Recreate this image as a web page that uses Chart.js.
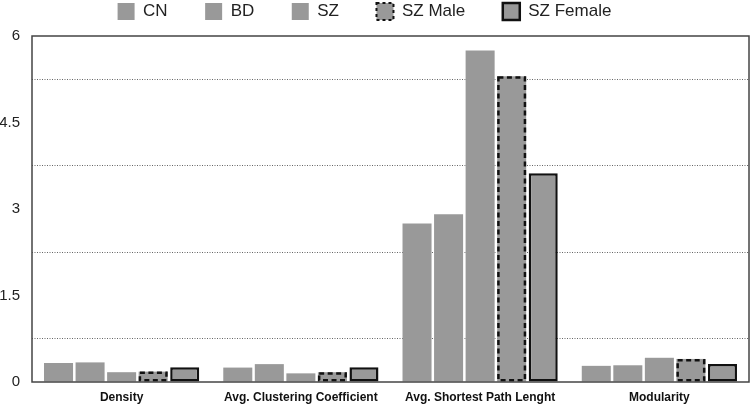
<!DOCTYPE html>
<html>
<head>
<meta charset="utf-8">
<script src="https://cdn.jsdelivr.net/npm/chart.js@4/dist/chart.umd.min.js"></script>
<style>
  html, body { margin: 0; padding: 0; background: #fff; }
  #wrap { width: 752px; height: 404px; }
</style>
</head>
<body>
<div id="wrap"><canvas id="chart" width="752" height="404"></canvas></div>
<script>
const categories = [
  'Density',
  'Avg. Clustering Coefficient',
  'Avg. Shortest Path Lenght',
  'Modularity',
]
const groupNames = ['CN', 'BD', 'SZ', 'SZ Male', 'SZ Female']
const cnValues = [0.33, 0.25, 2.75, 0.28]
const bdValues = [0.34, 0.31, 2.91, 0.29]
const szValues = [0.17, 0.15, 5.75, 0.42]
const szMaleValues = [0.18, 0.17, 5.30, 0.40]
const szFemaleValues = [0.255, 0.255, 3.62, 0.31]
const yTicks = [0, 1.5, 3, 4.5, 6]

const barGray = '#999999'
const allValues = [cnValues, bdValues, szValues, szMaleValues, szFemaleValues]

const datasets = []
for (let i = 0; i < groupNames.length; i++) {
  datasets.push({
    label: groupNames[i],
    data: allValues[i],
    backgroundColor: barGray,
    borderWidth: 0,
  })
}
// SZ Female: solid black outline on all sides
datasets[4].borderWidth = 2.5
datasets[4].borderColor = '#111'
datasets[4].borderSkipped = false

function isMainTick (v) {
  return yTicks.some(t => Math.abs(t - v) < 1e-6)
}

// dashed outline for SZ Male bars (bar elements can't dash their border)
const dashedBars = {
  id: 'dashedBars',
  afterDatasetsDraw (chart) {
    const ctx = chart.ctx
    const meta = chart.getDatasetMeta(3)
    ctx.save()
    ctx.strokeStyle = '#111'
    ctx.lineWidth = 2.5
    ctx.setLineDash([5, 3.5])
    meta.data.forEach(el => {
      const p = el.getProps(['x', 'y', 'base', 'width'], true)
      ctx.strokeRect(p.x - p.width / 2 + 1.25, p.y + 1.25, p.width - 2.5, p.base - p.y - 2.5)
    })
    ctx.restore()
  },
}

// box around the plot area
const frame = {
  id: 'frame',
  afterDatasetsDraw (chart) {
    const a = chart.chartArea
    const ctx = chart.ctx
    ctx.save()
    ctx.strokeStyle = '#444'
    ctx.lineWidth = 1.5
    ctx.strokeRect(a.left, a.top, a.right - a.left, a.bottom - a.top)
    ctx.restore()
  },
}

const config = {
  type: 'bar',
  data: {
    labels: categories,
    datasets: datasets,
  },
  options: {
    responsive: false,
    animation: false,
    layout: {
      padding: { top: -34.5, left: -20, right: 3, bottom: 0 },
    },
    datasets: {
      bar: {
        categoryPercentage: 0.88,
        barPercentage: 0.92,
      },
    },
    plugins: {
      tooltip: { enabled: false },
      // empty title used only as a spacer between legend and plot
      title: {
        display: true,
        text: '',
        weight: 500,
        padding: 0,
        font: { size: 6, lineHeight: 1 },
      },
      legend: {
        position: 'top',
        labels: {
          boxWidth: 17,
          boxHeight: 17,
          padding: 37.5,
          color: '#222',
          font: { family: 'Liberation Sans, Arial, sans-serif', size: 17 },
          generateLabels (chart) {
            const items = Chart.defaults.plugins.legend.labels.generateLabels(chart)
            items[3].lineWidth = 2
            items[3].strokeStyle = '#111'
            items[3].lineDash = [3, 3]
            items[4].lineWidth = 2.5
            return items
          },
        },
      },
    },
    scales: {
      x: {
        grid: { display: false, drawTicks: false },
        border: { display: false },
        ticks: {
          padding: 8,
          color: '#111',
          font: { family: 'Liberation Sans, Arial, sans-serif', size: 12, weight: 'bold' },
          maxRotation: 0,
        },
        afterFit (scale) {
          scale.height = 22
        },
      },
      y: {
        min: 0,
        max: 6,
        grid: {
          drawTicks: false,
          lineWidth: 1,
          color: (c) => (c.tick && !isMainTick(c.tick.value) ? '#666' : 'rgba(0,0,0,0)'),
        },
        border: { display: false, dash: [1, 1.5] },
        ticks: {
          stepSize: 0.75,
          autoSkip: false,
          padding: 12,
          color: '#222',
          font: { family: 'Liberation Sans, Arial, sans-serif', size: 15 },
          callback: (v) => (isMainTick(v) ? String(v) : ''),
        },
        afterFit (scale) {
          scale.width = 52
        },
      },
    },
  },
  plugins: [dashedBars, frame],
}

const ctx = document.getElementById('chart').getContext('2d')
const myChart = new Chart(ctx, config)
</script>
</body>
</html>
